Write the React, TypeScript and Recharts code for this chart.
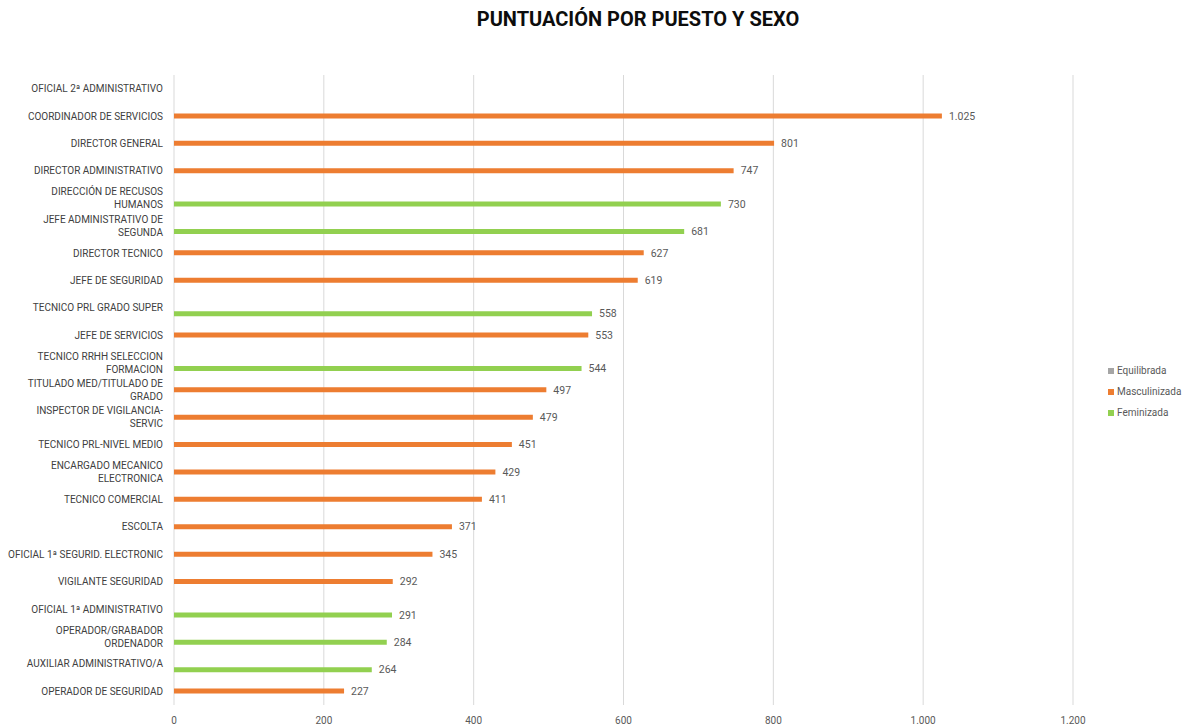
import React from "react";
import {
  BarChart,
  Bar,
  XAxis,
  YAxis,
  CartesianGrid,
  LabelList,
} from "recharts";

const categories = [
  "OFICIAL 2ª ADMINISTRATIVO",
  "COORDINADOR DE SERVICIOS",
  "DIRECTOR GENERAL",
  "DIRECTOR ADMINISTRATIVO",
  "DIRECCIÓN DE RECUSOS HUMANOS",
  "JEFE ADMINISTRATIVO DE SEGUNDA",
  "DIRECTOR TECNICO",
  "JEFE DE SEGURIDAD",
  "TECNICO PRL GRADO SUPER",
  "JEFE DE SERVICIOS",
  "TECNICO RRHH SELECCION FORMACION",
  "TITULADO MED/TITULADO DE GRADO",
  "INSPECTOR DE VIGILANCIA-SERVIC",
  "TECNICO PRL-NIVEL MEDIO",
  "ENCARGADO MECANICO ELECTRONICA",
  "TECNICO COMERCIAL",
  "ESCOLTA",
  "OFICIAL 1ª SEGURID. ELECTRONIC",
  "VIGILANTE SEGURIDAD",
  "OFICIAL 1ª ADMINISTRATIVO",
  "OPERADOR/GRABADOR ORDENADOR",
  "AUXILIAR ADMINISTRATIVO/A",
  "OPERADOR DE SEGURIDAD",
];

// wrapped tick labels, as the spreadsheet breaks them
const tickLines: string[][] = [
  ["OFICIAL 2ª ADMINISTRATIVO"],
  ["COORDINADOR DE SERVICIOS"],
  ["DIRECTOR GENERAL"],
  ["DIRECTOR ADMINISTRATIVO"],
  ["DIRECCIÓN DE RECUSOS", "HUMANOS"],
  ["JEFE ADMINISTRATIVO DE", "SEGUNDA"],
  ["DIRECTOR TECNICO"],
  ["JEFE DE SEGURIDAD"],
  ["TECNICO PRL GRADO SUPER"],
  ["JEFE DE SERVICIOS"],
  ["TECNICO RRHH SELECCION", "FORMACION"],
  ["TITULADO MED/TITULADO DE", "GRADO"],
  ["INSPECTOR DE VIGILANCIA-", "SERVIC"],
  ["TECNICO PRL-NIVEL MEDIO"],
  ["ENCARGADO MECANICO", "ELECTRONICA"],
  ["TECNICO COMERCIAL"],
  ["ESCOLTA"],
  ["OFICIAL 1ª SEGURID. ELECTRONIC"],
  ["VIGILANTE SEGURIDAD"],
  ["OFICIAL 1ª ADMINISTRATIVO"],
  ["OPERADOR/GRABADOR", "ORDENADOR"],
  ["AUXILIAR ADMINISTRATIVO/A"],
  ["OPERADOR DE SEGURIDAD"],
];

const equilibrada: (number | null)[] = categories.map(() => null);

const masculinizada: (number | null)[] = [
  null, 1025, 801, 747, null, null, 627, 619, null, 553, null, 497, 479, 451,
  429, 411, 371, 345, 292, null, null, null, 227,
];

const feminizada: (number | null)[] = [
  null, null, null, null, 730, 681, null, null, 558, null, 544, null, null,
  null, null, null, null, null, null, 291, 284, 264, null,
];

const xTicks = [0, 200, 400, 600, 800, 1000, 1200];

const data = categories.map((name, i) => ({
  name,
  equilibrada: equilibrada[i],
  masculinizada: masculinizada[i],
  feminizada: feminizada[i],
}));

const COLORS = {
  equilibrada: "#a5a5a5",
  masculinizada: "#ed7d31",
  feminizada: "#92d050",
};

const FONT = "Roboto, 'Open Sans', sans-serif";

const fmt = (v: any) =>
  v == null ? "" : String(v).replace(/\B(?=(\d{3})+(?!\d))/g, ".");

function CategoryTick(props: any) {
  const { x, y, index } = props;
  const lines = tickLines[index] ?? [String(props.payload?.value ?? "")];
  const lh = 13;
  const start = -((lines.length - 1) * lh) / 2;
  return (
    <text
      x={x}
      y={y}
      textAnchor="end"
      fill="#404040"
      fontSize={10}
      fontFamily={FONT}
    >
      {lines.map((l, i) => (
        <tspan key={i} x={x} dy={i === 0 ? start + 3.5 : lh}>
          {l}
        </tspan>
      ))}
    </text>
  );
}

function LegendBox() {
  const items = [
    ["Equilibrada", COLORS.equilibrada],
    ["Masculinizada", COLORS.masculinizada],
    ["Feminizada", COLORS.feminizada],
  ];
  return (
    <div
      style={{
        position: "absolute",
        left: 1108,
        top: 360,
        fontFamily: FONT,
        fontSize: 10,
        color: "#595959",
      }}
    >
      {items.map(([label, color]) => (
        <div
          key={label}
          style={{ display: "flex", alignItems: "center", height: 21 }}
        >
          <span
            style={{
              width: 6,
              height: 6,
              background: color,
              display: "inline-block",
              marginRight: 3,
            }}
          />
          {label}
        </div>
      ))}
    </div>
  );
}

export default function App() {
  return (
    <div
      style={{
        position: "absolute",
        left: 0,
        top: 0,
        width: 1192,
        height: 726,
        background: "#fff",
      }}
    >
      <div
        style={{
          position: "absolute",
          left: 438,
          width: 400,
          top: 7,
          textAlign: "center",
          fontFamily: FONT,
          fontWeight: 700,
          fontSize: 20,
          color: "#0d0d0d",
        }}
      >
        PUNTUACIÓN POR PUESTO Y SEXO
      </div>
      <BarChart
        width={1192}
        height={726}
        data={data}
        layout="vertical"
        margin={{ top: 75, right: 119, bottom: 0, left: 0 }}
        barSize={5}
        barGap={1}
      >
        <CartesianGrid horizontal={false} stroke="#d9d9d9" />
        <XAxis
          type="number"
          domain={[0, 1200]}
          ticks={xTicks}
          axisLine={false}
          tickLine={false}
          tickMargin={6}
          height={21}
          tickFormatter={fmt}
          tick={{ fontSize: 10, fill: "#595959", fontFamily: FONT }}
        />
        <YAxis
          type="category"
          dataKey="name"
          width={174}
          axisLine={false}
          tickLine={false}
          tickMargin={5}
          interval={0}
          tick={<CategoryTick />}
        />
        <Bar
          dataKey="equilibrada"
          name="Equilibrada"
          fill={COLORS.equilibrada}
          isAnimationActive={false}
        />
        <Bar
          dataKey="masculinizada"
          name="Masculinizada"
          fill={COLORS.masculinizada}
          isAnimationActive={false}
        >
          <LabelList
            dataKey="masculinizada"
            position="right"
            offset={7}
            formatter={fmt}
            style={{ fontSize: 10.5, fill: "#595959", fontFamily: FONT }}
          />
        </Bar>
        <Bar
          dataKey="feminizada"
          name="Feminizada"
          fill={COLORS.feminizada}
          isAnimationActive={false}
        >
          <LabelList
            dataKey="feminizada"
            position="right"
            offset={7}
            formatter={fmt}
            style={{ fontSize: 10.5, fill: "#595959", fontFamily: FONT }}
          />
        </Bar>
      </BarChart>
      <LegendBox />
    </div>
  );
}
